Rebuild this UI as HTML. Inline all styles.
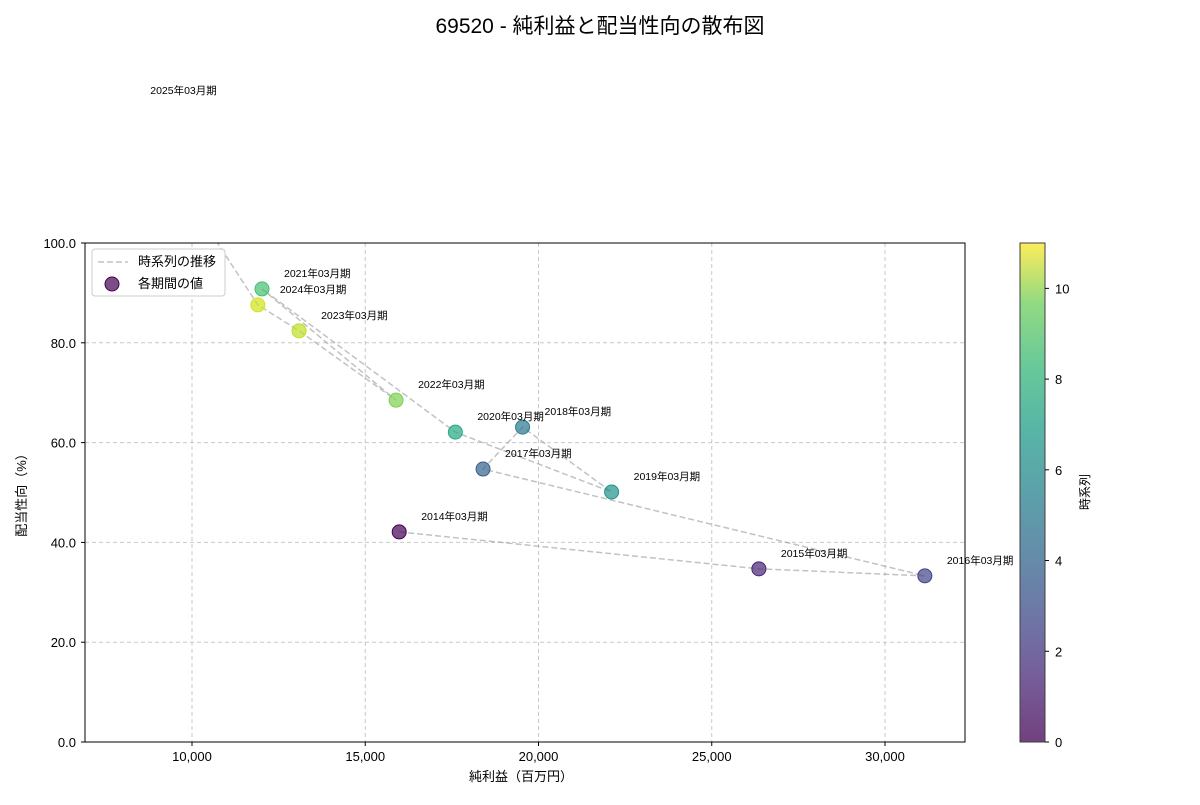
<!DOCTYPE html>
<html><head><meta charset="utf-8"><style>
body{margin:0;background:#fff;font-family:"Liberation Sans","Noto Sans CJK JP",sans-serif;}
svg text{font-family:"Liberation Sans","Noto Sans CJK JP",sans-serif;}
</style></head><body>
<svg id="c" width="1200" height="800" xmlns="http://www.w3.org/2000/svg">
<defs>
<linearGradient id="vir" x1="0" y1="1" x2="0" y2="0">
<stop offset="0" stop-color="#440154"/><stop offset="0.13" stop-color="#482878"/><stop offset="0.25" stop-color="#3e4989"/><stop offset="0.38" stop-color="#31688e"/><stop offset="0.5" stop-color="#26828e"/><stop offset="0.63" stop-color="#1f9e89"/><stop offset="0.75" stop-color="#35b779"/><stop offset="0.88" stop-color="#6ece58"/><stop offset="1" stop-color="#fde725"/>
</linearGradient>
<clipPath id="clip"><rect x="85" y="243" width="880" height="499"/></clipPath>
</defs>
<text x="600" y="33" text-anchor="middle" font-size="21">69520 - 純利益と配当性向の散布図</text>
<g id="grid"></g>
<g id="plot"></g>
<rect x="85" y="243" width="880" height="499" fill="none" stroke="#000" stroke-width="1"/>
<g id="axes"></g>
<text x="521" y="781" text-anchor="middle" font-size="13">純利益（百万円）</text>
<text transform="translate(26,492) rotate(-90)" text-anchor="middle" font-size="13">配当性向（%）</text>
<g>
<rect x="92" y="249" width="133" height="47" rx="3" fill="#fff" fill-opacity="0.85" stroke="#ccc"/>
<line x1="98" y1="262" x2="128" y2="262" stroke="#999" stroke-opacity="0.6" stroke-width="1.5" stroke-dasharray="6,3"/>
<text x="138" y="266" font-size="13">時系列の推移</text>
<circle cx="112" cy="284" r="7" fill="#440154" fill-opacity="0.7" stroke="#440154"/>
<text x="138" y="288" font-size="13">各期間の値</text>
</g>
<rect x="1020" y="243" width="25" height="499" fill="url(#vir)" opacity="0.75" stroke="#000"/>
<g id="cbticks"></g>
<text transform="translate(1089,492) rotate(-90)" text-anchor="middle" font-size="12">時系列</text>
</svg>
<script>
const periods=["2014年03月期","2015年03月期","2016年03月期","2017年03月期","2018年03月期","2019年03月期","2020年03月期","2021年03月期","2022年03月期","2023年03月期","2024年03月期","2025年03月期"];
const netIncome=[15980,26360,31150,18400,19540,22110,17600,12020,15890,13090,11900,8160];
const payoutRatio=[42.1,34.7,33.3,54.7,63.1,50.1,62.1,90.8,68.5,82.4,87.6,127.5];
const xTicks=[10000,15000,20000,25000,30000];
const yTicks=[0,20,40,60,80,100];
const cTicks=[0,2,4,6,8,10];
const X=v=>192+(v-10000)*173.25/5000;
const Y=v=>742-v*4.99;
const C=v=>742-v*499/11;
const vir=["#440154","#482475","#414487","#355f8d","#2a788e","#21918c","#22a884","#44bf70","#7ad151","#bddf26","#d2e21b","#fde725"];
const ns="http://www.w3.org/2000/svg";
function mk(t,a,p){const e=document.createElementNS(ns,t);for(const k in a)e.setAttribute(k,a[k]);p.appendChild(e);return e;}
const grid=document.getElementById('grid'),plot=document.getElementById('plot'),axes=document.getElementById('axes'),cb=document.getElementById('cbticks');
xTicks.forEach(v=>{const x=X(v);
const g=mk('line',{x1:x,x2:x,y1:243,y2:742,stroke:'#b0b0b0','stroke-opacity':0.7,'stroke-dasharray':'4,3'},grid);


mk('line',{x1:x,x2:x,y1:742,y2:746,stroke:'#000'},axes);
const t=mk('text',{x:x,y:761,'text-anchor':'middle','font-size':13},axes);t.textContent=v.toLocaleString('en-US');

});
yTicks.forEach(v=>{const y=Y(v);
const g=mk('line',{x1:85,x2:965,y1:y,y2:y,stroke:'#b0b0b0','stroke-opacity':0.7,'stroke-dasharray':'4,3'},grid);


mk('line',{x1:81,x2:85,y1:y,y2:y,stroke:'#000'},axes);
const t=mk('text',{x:76,y:y+5,'text-anchor':'end','font-size':13},axes);t.textContent=v.toFixed(1);

});
cTicks.forEach(v=>{const y=C(v);
mk('line',{x1:1045,x2:1049,y1:y,y2:y,stroke:'#000'},cb);
const t=mk('text',{x:1055,y:y+5,'font-size':13},cb);t.textContent=v;

});
const pts=netIncome.map((v,i)=>X(v)+','+Y(payoutRatio[i])).join(' ');
const pl=mk('polyline',{points:pts,fill:'none',stroke:'#999','stroke-opacity':0.6,'stroke-width':1.5,'stroke-dasharray':'6,3','clip-path':'url(#clip)'},plot);


netIncome.forEach((v,i)=>{const x=X(v),y=Y(payoutRatio[i]);
const c=mk('circle',{cx:x,cy:y,r:7,fill:vir[i],'fill-opacity':0.7,stroke:vir[i],'clip-path':'url(#clip)'},plot);


const t=mk('text',{x:x+22,y:y-12,'font-size':10.5},plot);t.textContent=periods[i];

});
</script>
</body></html>
